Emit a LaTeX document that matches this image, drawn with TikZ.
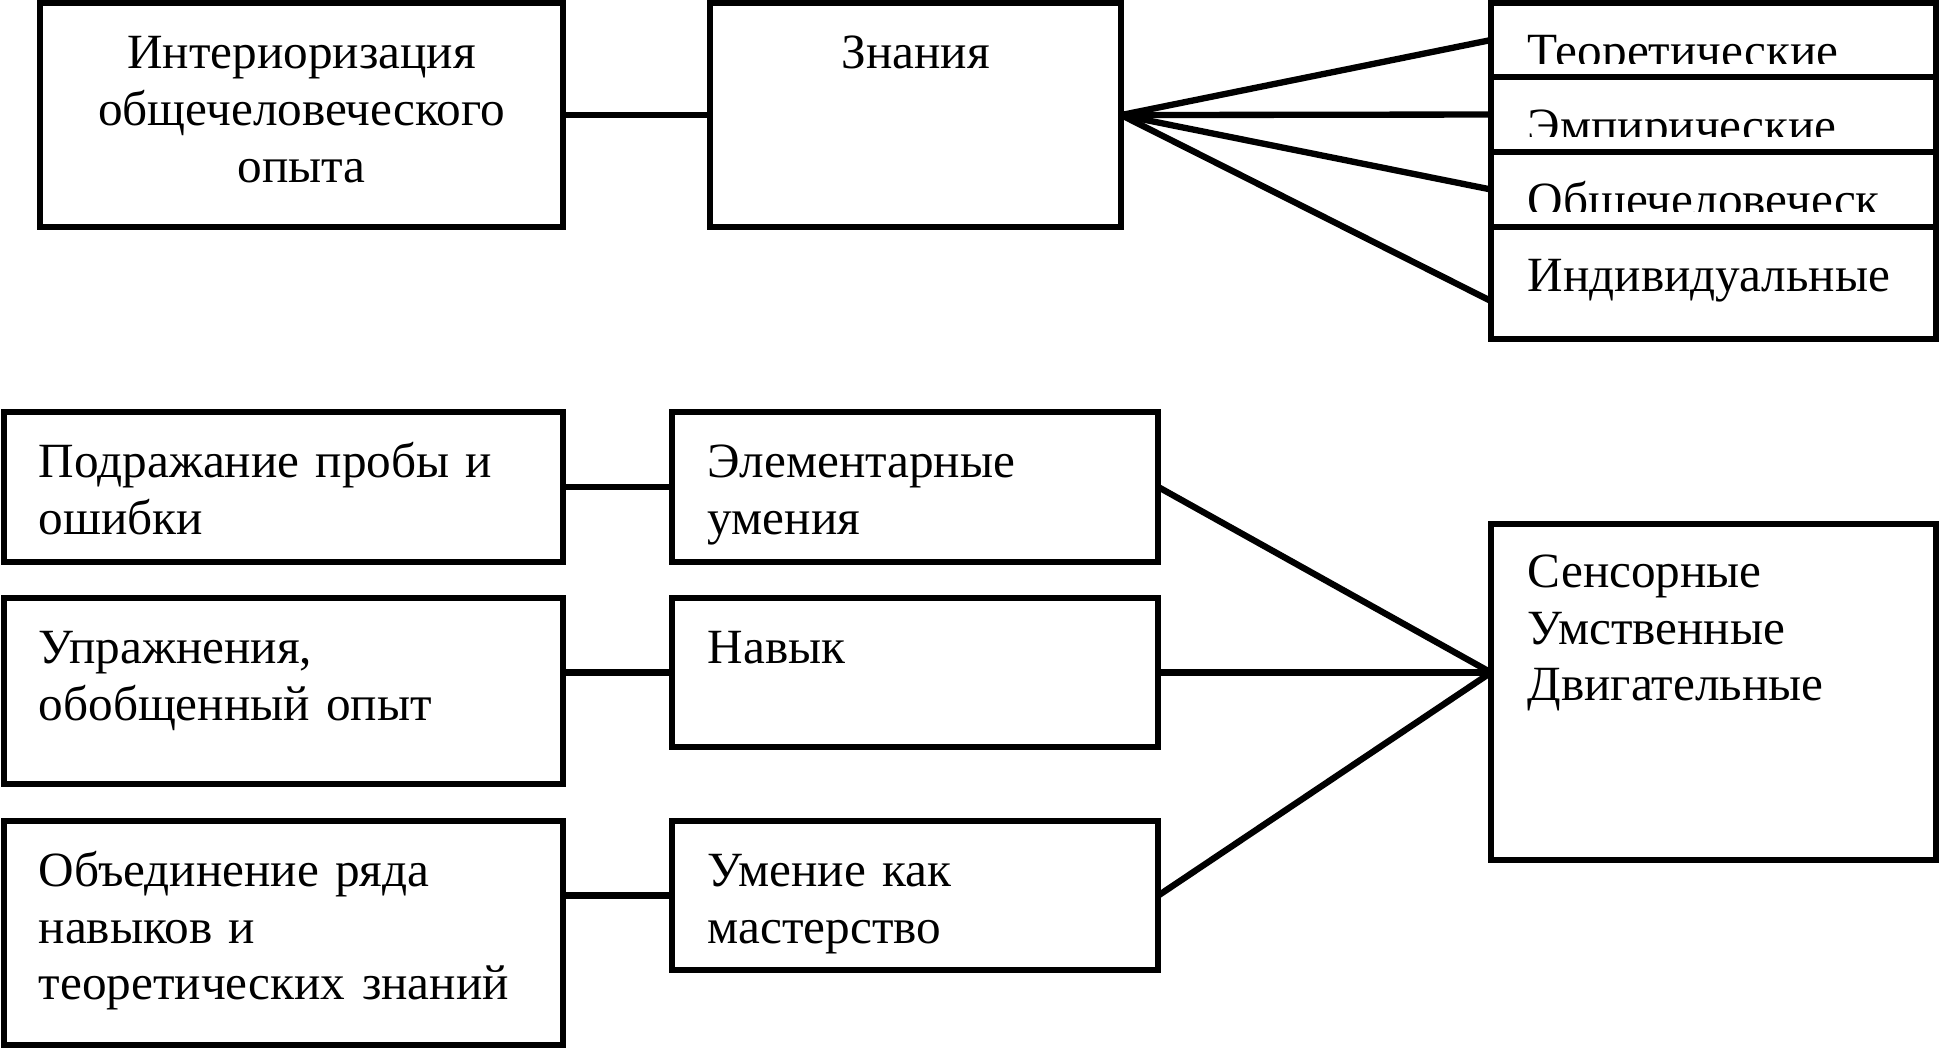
\documentclass[tikz,border=0pt]{standalone}
\usepackage{fontspec}
\setmainfont{Liberation Serif}
\usetikzlibrary{positioning}
\tikzset{
  box/.style={draw, line width=1.8pt, inner sep=0pt, outer sep=0pt, anchor=north west},
  txt/.style={inner sep=0pt, font=\fontsize{14pt}{16.2pt}\selectfont, text width=5cm, align=left, anchor=base west},
  txtc/.style={txt, align=center, anchor=base},
  link/.style={line width=1.8pt}
}
\begin{document}
\begin{tikzpicture}[x=0.01cm, y=-0.01cm]
\useasboundingbox (0,0) rectangle (1942,1049);
% top row
\node[box, minimum width=5.23cm, minimum height=2.24cm] (intern) at (40,3) {};
\node[box, minimum width=4.11cm, minimum height=2.24cm] (znan) at (710,3) {};
\node[box, minimum width=4.45cm, minimum height=0.74cm] (teor) at (1491,3) {};
\node[box, minimum width=4.45cm, minimum height=0.75cm] (emp) at (1491,77) {};
\node[box, minimum width=4.45cm, minimum height=0.75cm] (obsh) at (1491,152) {};
\node[box, minimum width=4.45cm, minimum height=1.12cm] (ind) at (1491,227) {};
\node[txtc] (interntxt) at ([yshift=-0.655cm]intern.north) {Интериоризация\\общечеловеческого\\опыта};
\node[txtc] (znantxt) at ([yshift=-0.655cm]znan.north) {Знания};
\begin{scope}
  \clip (teor.north west) rectangle ([yshift=0.14cm]teor.south east);
  \node[txt] (teortxt) at ([xshift=0.36cm,yshift=-0.64cm]teor.north west) {Теоретические};
\end{scope}
\begin{scope}
  \clip (emp.north west) rectangle ([yshift=0.16cm]emp.south east);
  \node[txt] (emptxt) at ([xshift=0.36cm,yshift=-0.65cm]emp.north west) {Эмпирические};
\end{scope}
\begin{scope}
  \clip (obsh.north west) rectangle ([yshift=0.16cm]obsh.south east);
  \node[txt] (obshtxt) at ([xshift=0.36cm,yshift=-0.64cm]obsh.north west) {Общечеловеческ};
\end{scope}
\node[txt] (indtxt) at ([xshift=0.36cm,yshift=-0.64cm]ind.north west) {Индивидуальные};
% bottom rows
\node[box, minimum width=5.59cm, minimum height=1.50cm] (pod) at (4,412) {};
\node[box, minimum width=5.59cm, minimum height=1.86cm] (upr) at (4,598) {};
\node[box, minimum width=5.59cm, minimum height=2.24cm] (obj) at (4,821) {};
\node[box, minimum width=4.86cm, minimum height=1.50cm] (elem) at (672,412) {};
\node[box, minimum width=4.86cm, minimum height=1.49cm] (nav) at (672,598) {};
\node[box, minimum width=4.86cm, minimum height=1.49cm] (um) at (672,821) {};
\node[box, minimum width=4.45cm, minimum height=3.36cm] (sens) at (1491,524) {};
\node[txt] (podtxt) at ([xshift=0.34cm,yshift=-0.65cm]pod.north west) {Подражание пробы и\\ошибки};
\node[txt] (uprtxt) at ([xshift=0.34cm,yshift=-0.65cm]upr.north west) {Упражнения,\\обобщенный опыт};
\node[txt] (objtxt) at ([xshift=0.34cm,yshift=-0.65cm]obj.north west) {Объединение ряда\\навыков и\\теоретических знаний};
\node[txt] (elemtxt) at ([xshift=0.35cm,yshift=-0.65cm]elem.north west) {Элементарные\\умения};
\node[txt] (navtxt) at ([xshift=0.35cm,yshift=-0.65cm]nav.north west) {Навык};
\node[txt] (umtxt) at ([xshift=0.35cm,yshift=-0.65cm]um.north west) {Умение как\\мастерство};
\node[txt] (senstxt) at ([xshift=0.36cm,yshift=-0.63cm]sens.north west) {Сенсорные\\Умственные\\Двигательные};
% connectors
\draw[link] (intern) -- (znan);
\draw[link] (znan.east) -- (teor.west);
\draw[link] (znan.east) -- (emp.west);
\draw[link] (znan.east) -- (obsh.west);
\draw[link] (znan.east) -- ([yshift=-0.18cm]ind.west);
\draw[link] (pod) -- (elem);
\draw[link] (nav.west -| upr.east) -- (nav.west);
\draw[link] (um.west -| obj.east) -- (um.west);
\coordinate (sensin) at (sens.west |- nav.east);
\draw[link] (elem.east) -- (sensin);
\draw[link] (nav.east) -- (sensin);
\draw[link] (um.east) -- (sensin);
\end{tikzpicture}
\end{document}
